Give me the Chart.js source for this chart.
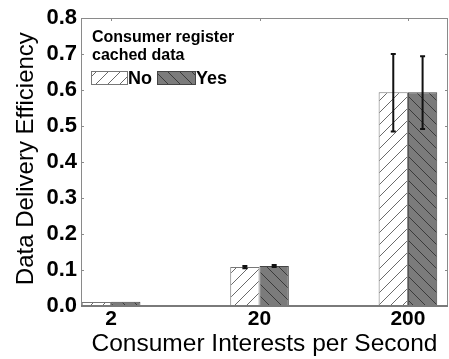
<!DOCTYPE html>
<html>
<head>
<meta charset="utf-8">
<script src="https://cdn.jsdelivr.net/npm/chart.js@4/dist/chart.umd.min.js"></script>
<style>
  html, body { margin: 0; padding: 0; background: #fff; }
  #wrap { width: 449px; height: 359px; position: relative; }
</style>
</head>
<body>
<div id="wrap"><canvas id="c" width="449" height="359"></canvas></div>
<script>
// Interest rates (categories) and delivery efficiency per caching setting
const categories = ['2', '20', '200'];
const seriesNames = ['No', 'Yes'];
const efficiencyNo = [0.011, 0.108, 0.594];
const efficiencyYes = [0.012, 0.111, 0.594];
const errNoLow = [0.011, 0.105, 0.485];
const errNoHigh = [0.011, 0.111, 0.700];
const errYesLow = [0.012, 0.108, 0.492];
const errYesHigh = [0.012, 0.114, 0.694];
const yTicks = [0.0, 0.1, 0.2, 0.3, 0.4, 0.5, 0.6, 0.7, 0.8];
const legendTitle = ['Consumer register', 'cached data'];

const FONT = '"Liberation Sans", Arial, sans-serif';

function hatch(bg, fg, dir) {
  const s = 12;
  const p = document.createElement('canvas');
  p.width = s; p.height = s;
  const g = p.getContext('2d');
  g.fillStyle = bg;
  g.fillRect(0, 0, s, s);
  g.strokeStyle = fg;
  g.lineWidth = 1;
  g.beginPath();
  if (dir > 0) {
    for (let k = -1; k <= 1; k++) {
      g.moveTo(k * s, s); g.lineTo(k * s + s, 0);
    }
  } else {
    for (let k = -1; k <= 1; k++) {
      g.moveTo(k * s, 0); g.lineTo(k * s + s, s);
    }
  }
  g.stroke();
  return g.createPattern(p, 'repeat');
}

const ctx0 = document.getElementById('c').getContext('2d');
const patNo = hatch('#ffffff', '#6a6a6a', 1);
const patYes = hatch('#7b7b7b', '#3a3a3a', -1);

const toPoints = arr => arr.map((v, i) => ({ x: i, y: v }));

const errorBars = {
  id: 'errorBars',
  afterDatasetsDraw(chart) {
    const { ctx } = chart;
    const y = chart.scales.y;
    const sets = [[errNoLow, errNoHigh], [errYesLow, errYesHigh]];
    ctx.save();
    ctx.strokeStyle = '#111';
    ctx.lineWidth = 2;
    sets.forEach((pair, di) => {
      const meta = chart.getDatasetMeta(di);
      meta.data.forEach((bar, i) => {
        const lo = pair[0][i], hi = pair[1][i];
        if (hi - lo <= 0) return;
        const x = bar.x;
        const y1 = y.getPixelForValue(lo), y2 = y.getPixelForValue(hi);
        ctx.beginPath();
        ctx.moveTo(x, y1); ctx.lineTo(x, y2);
        ctx.moveTo(x - 2.5, y1); ctx.lineTo(x + 2.5, y1);
        ctx.moveTo(x - 2.5, y2); ctx.lineTo(x + 2.5, y2);
        ctx.stroke();
      });
    });
    ctx.restore();
  }
};

const frame = {
  id: 'frame',
  afterDraw(chart) {
    const { ctx, chartArea: a } = chart;
    const y = chart.scales.y;
    const x = chart.scales.x;
    ctx.save();
    ctx.strokeStyle = '#8a8a8a';
    ctx.lineWidth = 1;
    ctx.beginPath();
    ctx.moveTo(a.left + 0.5, a.bottom); ctx.lineTo(a.left + 0.5, a.top + 0.5);
    ctx.lineTo(a.right - 0.5, a.top + 0.5); ctx.lineTo(a.right - 0.5, a.bottom);
    yTicks.forEach(v => {
      const py = Math.round(y.getPixelForValue(v)) + 0.5;
      ctx.moveTo(a.left, py); ctx.lineTo(a.left + 3, py);
      ctx.moveTo(a.right, py); ctx.lineTo(a.right - 3, py);
    });
    categories.forEach((c, i) => {
      const px = Math.round(x.getPixelForValue(i)) + 0.5;
      ctx.moveTo(px, a.top); ctx.lineTo(px, a.top + 3);
    });
    ctx.stroke();
    ctx.strokeStyle = '#7a7a7a';
    ctx.lineWidth = 2;
    ctx.beginPath();
    ctx.moveTo(a.left, a.bottom); ctx.lineTo(a.right, a.bottom);
    ctx.stroke();

    // legend
    ctx.fillStyle = '#000';
    ctx.font = 'bold 16px ' + FONT;
    ctx.textBaseline = 'alphabetic';
    ctx.textAlign = 'left';
    ctx.fillText(legendTitle[0], 92, 42);
    ctx.fillText(legendTitle[1], 92, 59.5);
    const boxes = [
      { x: 91, w: 36, pat: patNo, border: '#777', label: seriesNames[0], tx: 128 },
      { x: 157, w: 38, pat: patYes, border: '#444', label: seriesNames[1], tx: 196 }
    ];
    ctx.font = 'bold 18px ' + FONT;
    boxes.forEach(b => {
      ctx.fillStyle = b.pat;
      ctx.fillRect(b.x, 71, b.w, 13);
      ctx.strokeStyle = b.border;
      ctx.lineWidth = 1;
      ctx.strokeRect(b.x + 0.5, 71.5, b.w, 13);
      ctx.fillStyle = '#000';
      ctx.fillText(b.label, b.tx, 84);
    });
    ctx.restore();
  }
};

new Chart(ctx0, {
  type: 'bar',
  data: {
    datasets: [
      { label: seriesNames[0], data: toPoints(efficiencyNo), backgroundColor: patNo, borderColor: '#777', borderWidth: 1 },
      { label: seriesNames[1], data: toPoints(efficiencyYes), backgroundColor: patYes, borderColor: '#444', borderWidth: 1 }
    ]
  },
  options: {
    responsive: false,
    animation: false,
    events: [],
    layout: { padding: { top: 18, right: 1, left: 0, bottom: 0 } },
    datasets: { bar: { categoryPercentage: 0.395, barPercentage: 1 } },
    plugins: { legend: { display: false }, tooltip: { enabled: false } },
    scales: {
      x: {
        type: 'linear',
        min: -0.203,
        max: 2.27,
        offset: false,
        grid: { display: false, drawTicks: false },
        border: { display: false },
        afterFit(s) { s.height = 53; },
        afterBuildTicks(s) { s.ticks = categories.map((c, i) => ({ value: i })); },
        ticks: {
          autoSkip: false,
          maxRotation: 0,
          padding: 1,
          color: '#000',
          font: { family: FONT, size: 21, weight: 'bold' },
          callback: (v) => categories[v]
        },
        title: {
          display: true,
          text: 'Consumer Interests per Second',
          color: '#000',
          padding: { top: 0, bottom: 0 },
          font: { family: FONT, size: 24.5 }
        }
      },
      y: {
        min: 0,
        max: 0.8,
        grid: { display: false, drawTicks: false },
        border: { display: false },
        afterFit(s) { s.width = 81; },
        afterBuildTicks(s) { s.ticks = yTicks.map(v => ({ value: v })); },
        ticks: {
          padding: 4,
          color: '#000',
          font: { family: FONT, size: 22, weight: 'bold' },
          callback: (v) => v.toFixed(1)
        },
        title: {
          display: true,
          text: ' Data Delivery Efficiency',
          color: '#000',
          padding: { top: 12, bottom: 0 },
          font: { family: FONT, size: 24 }
        }
      }
    }
  },
  plugins: [errorBars, frame]
});
</script>
</body>
</html>
